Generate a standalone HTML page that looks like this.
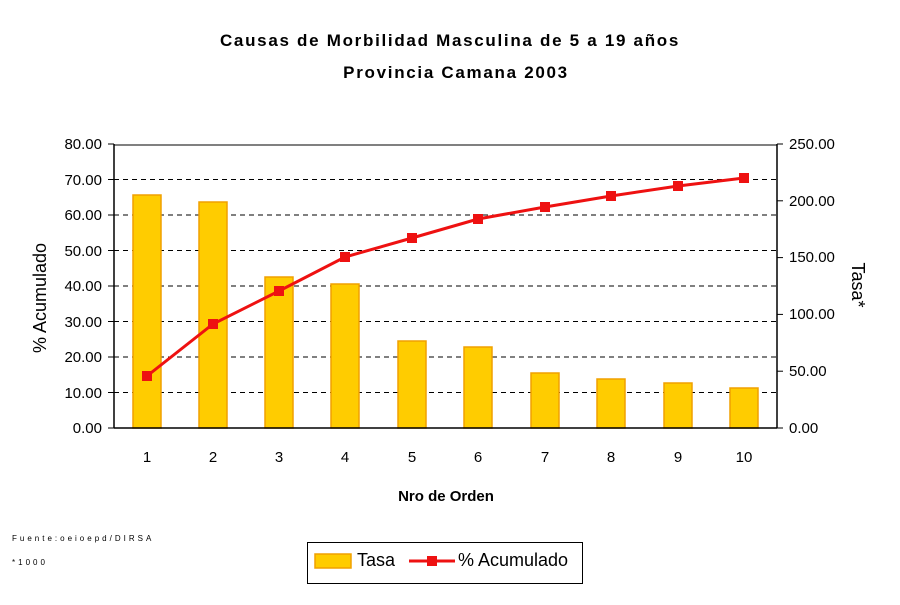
<!DOCTYPE html>
<html><head><meta charset="utf-8"><style>
body{margin:0;background:#fff}
svg text{font-family:"Liberation Sans",Arial,sans-serif}
</style></head><body>
<svg width="900" height="600" viewBox="0 0 900 600" xmlns="http://www.w3.org/2000/svg">
<text x="450" y="46" text-anchor="middle" font-size="17" font-weight="bold" letter-spacing="1.7">Causas de Morbilidad Masculina de 5 a 19 años</text>
<text x="456" y="78" text-anchor="middle" font-size="17" font-weight="bold" letter-spacing="1.7">Provincia Camana 2003</text>
<g stroke="#000" stroke-dasharray="5,4" stroke-width="1">
<line x1="114" x2="777" y1="392.5" y2="392.5"/>
<line x1="114" x2="777" y1="357" y2="357"/>
<line x1="114" x2="777" y1="321.5" y2="321.5"/>
<line x1="114" x2="777" y1="286" y2="286"/>
<line x1="114" x2="777" y1="250.5" y2="250.5"/>
<line x1="114" x2="777" y1="215" y2="215"/>
<line x1="114" x2="777" y1="179.5" y2="179.5"/>
</g>
<line x1="114" x2="777" y1="145" y2="145" stroke="#808080" stroke-width="2"/>
<g fill="#FFCC00" stroke="#F0A000" stroke-width="1.5">
<rect x="133" y="195" width="28" height="233"/>
<rect x="199" y="202" width="28" height="226"/>
<rect x="265" y="277" width="28" height="151"/>
<rect x="331" y="284" width="28" height="144"/>
<rect x="398" y="341" width="28" height="87"/>
<rect x="464" y="347" width="28" height="81"/>
<rect x="531" y="373" width="28" height="55"/>
<rect x="597" y="379" width="28" height="49"/>
<rect x="664" y="383" width="28" height="45"/>
<rect x="730" y="388" width="28" height="40"/>
</g>
<g stroke="#000" stroke-width="1.5">
<line x1="114" x2="114" y1="144" y2="428"/>
<line x1="777" x2="777" y1="144" y2="428"/>
<line x1="114" x2="777" y1="428" y2="428"/>
</g>
<g stroke="#000">
<line x1="108" x2="114" y1="428" y2="428"/><line x1="108" x2="114" y1="392.5" y2="392.5"/><line x1="108" x2="114" y1="357" y2="357"/><line x1="108" x2="114" y1="321.5" y2="321.5"/><line x1="108" x2="114" y1="286" y2="286"/><line x1="108" x2="114" y1="250.5" y2="250.5"/><line x1="108" x2="114" y1="215" y2="215"/><line x1="108" x2="114" y1="179.5" y2="179.5"/><line x1="108" x2="114" y1="144" y2="144"/>
<line x1="777" x2="783" y1="428" y2="428"/><line x1="777" x2="783" y1="371.2" y2="371.2"/><line x1="777" x2="783" y1="314.4" y2="314.4"/><line x1="777" x2="783" y1="257.6" y2="257.6"/><line x1="777" x2="783" y1="200.8" y2="200.8"/><line x1="777" x2="783" y1="144" y2="144"/>
</g>
<polyline fill="none" stroke="#EE1111" stroke-width="3" points="147,376 213,324 279,291 345,257 412,238 478,219 545,207 611,196 678,186 744,178"/>
<g fill="#EE1111">
<rect x="142" y="371" width="10" height="10"/><rect x="208" y="319" width="10" height="10"/><rect x="274" y="286" width="10" height="10"/><rect x="340" y="252" width="10" height="10"/><rect x="407" y="233" width="10" height="10"/><rect x="473" y="214" width="10" height="10"/><rect x="540" y="202" width="10" height="10"/><rect x="606" y="191" width="10" height="10"/><rect x="673" y="181" width="10" height="10"/><rect x="739" y="173" width="10" height="10"/>
</g>
<g font-size="15" text-anchor="end">
<text x="102" y="433">0.00</text><text x="102" y="398">10.00</text><text x="102" y="362">20.00</text><text x="102" y="327">30.00</text><text x="102" y="291">40.00</text><text x="102" y="256">50.00</text><text x="102" y="220">60.00</text><text x="102" y="185">70.00</text><text x="102" y="149">80.00</text>
</g>
<g font-size="15">
<text x="789" y="433">0.00</text><text x="789" y="376">50.00</text><text x="789" y="319">100.00</text><text x="789" y="262">150.00</text><text x="789" y="206">200.00</text><text x="789" y="149">250.00</text>
</g>
<g font-size="15" text-anchor="middle">
<text x="147" y="462">1</text><text x="213" y="462">2</text><text x="279" y="462">3</text><text x="345" y="462">4</text><text x="412" y="462">5</text><text x="478" y="462">6</text><text x="545" y="462">7</text><text x="611" y="462">8</text><text x="678" y="462">9</text><text x="744" y="462">10</text>
</g>
<text x="446" y="501" text-anchor="middle" font-size="15" font-weight="bold">Nro de Orden</text>
<text transform="translate(46,298) rotate(-90)" text-anchor="middle" font-size="18">% Acumulado</text>
<text transform="translate(852,285) rotate(90)" text-anchor="middle" font-size="18">Tasa*</text>
<text x="12" y="541" font-size="8" letter-spacing="3">Fuente:oeioepd/DIRSA</text>
<text x="12" y="565" font-size="8" letter-spacing="3">*1000</text>
<rect x="307.5" y="542.5" width="275" height="41" fill="#fff" stroke="#000"/>
<rect x="315" y="554" width="36" height="14" fill="#FFCC00" stroke="#F0A000" stroke-width="1.5"/>
<text x="357" y="566" font-size="18">Tasa</text>
<line x1="409" x2="455" y1="561" y2="561" stroke="#EE1111" stroke-width="3"/>
<rect x="427" y="556" width="10" height="10" fill="#EE1111"/>
<text x="458" y="566" font-size="18">% Acumulado</text>
</svg>
</body></html>
